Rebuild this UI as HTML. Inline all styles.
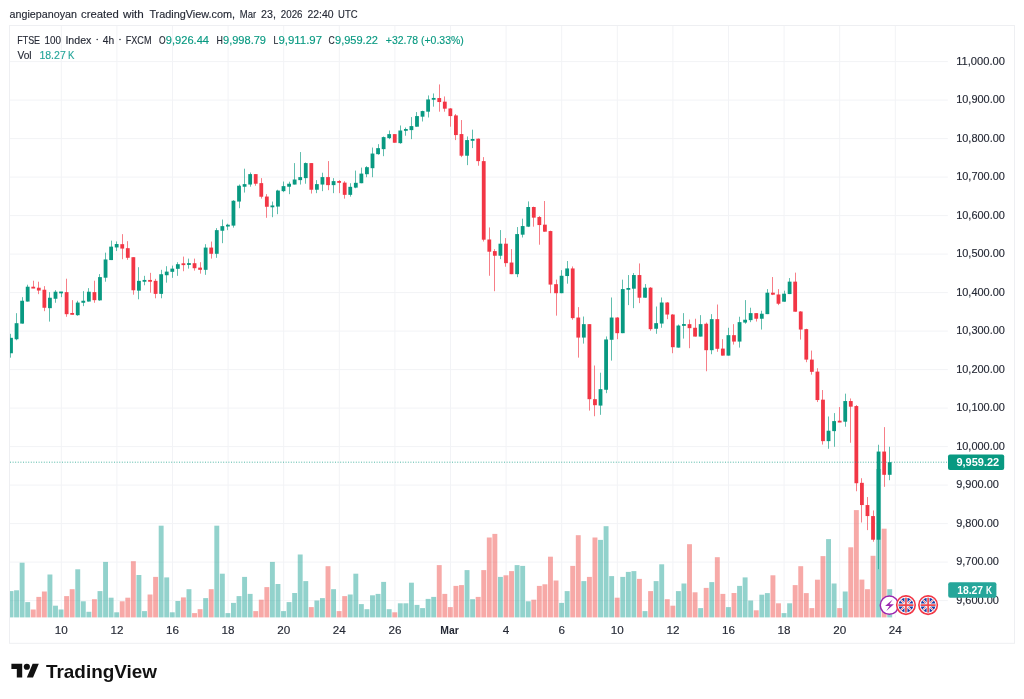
<!DOCTYPE html>
<html><head><meta charset="utf-8"><title>FTSE 100 Index chart</title>
<style>html,body{margin:0;padding:0;background:#fff}body{width:1024px;height:699px;position:relative;overflow:hidden;font-family:"Liberation Sans",sans-serif}</style></head>
<body>
<svg width="1024" height="699" viewBox="0 0 1024 699" style="position:absolute;left:0;top:0;filter:blur(0.3px)">
<defs><clipPath id="pane"><rect x="10" y="26" width="1004" height="617"/></clipPath></defs>
<g stroke="#f2f3f6" stroke-width="1">
<line x1="61.30" y1="26" x2="61.30" y2="617.4"/>
<line x1="116.90" y1="26" x2="116.90" y2="617.4"/>
<line x1="172.50" y1="26" x2="172.50" y2="617.4"/>
<line x1="228.10" y1="26" x2="228.10" y2="617.4"/>
<line x1="283.70" y1="26" x2="283.70" y2="617.4"/>
<line x1="339.30" y1="26" x2="339.30" y2="617.4"/>
<line x1="394.90" y1="26" x2="394.90" y2="617.4"/>
<line x1="450.50" y1="26" x2="450.50" y2="617.4"/>
<line x1="506.10" y1="26" x2="506.10" y2="617.4"/>
<line x1="561.70" y1="26" x2="561.70" y2="617.4"/>
<line x1="617.30" y1="26" x2="617.30" y2="617.4"/>
<line x1="672.90" y1="26" x2="672.90" y2="617.4"/>
<line x1="728.50" y1="26" x2="728.50" y2="617.4"/>
<line x1="784.10" y1="26" x2="784.10" y2="617.4"/>
<line x1="839.70" y1="26" x2="839.70" y2="617.4"/>
<line x1="895.30" y1="26" x2="895.30" y2="617.4"/>
<line x1="10" y1="600.60" x2="947.8" y2="600.60"/>
<line x1="10" y1="562.10" x2="947.8" y2="562.10"/>
<line x1="10" y1="523.60" x2="947.8" y2="523.60"/>
<line x1="10" y1="485.10" x2="947.8" y2="485.10"/>
<line x1="10" y1="446.60" x2="947.8" y2="446.60"/>
<line x1="10" y1="408.10" x2="947.8" y2="408.10"/>
<line x1="10" y1="369.60" x2="947.8" y2="369.60"/>
<line x1="10" y1="331.10" x2="947.8" y2="331.10"/>
<line x1="10" y1="292.60" x2="947.8" y2="292.60"/>
<line x1="10" y1="254.10" x2="947.8" y2="254.10"/>
<line x1="10" y1="215.60" x2="947.8" y2="215.60"/>
<line x1="10" y1="177.10" x2="947.8" y2="177.10"/>
<line x1="10" y1="138.60" x2="947.8" y2="138.60"/>
<line x1="10" y1="100.10" x2="947.8" y2="100.10"/>
<line x1="10" y1="61.60" x2="947.8" y2="61.60"/>
</g>
<rect x="9.5" y="25.5" width="1005" height="617.8" fill="none" stroke="#eeeff2" stroke-width="1"/>
<g clip-path="url(#pane)">
<rect x="8.55" y="591.10" width="4.9" height="26.30" fill="rgba(38,166,154,0.5)"/>
<rect x="14.11" y="590.30" width="4.9" height="27.10" fill="rgba(38,166,154,0.5)"/>
<rect x="19.67" y="562.70" width="4.9" height="54.70" fill="rgba(38,166,154,0.5)"/>
<rect x="25.23" y="602.10" width="4.9" height="15.30" fill="rgba(38,166,154,0.5)"/>
<rect x="30.80" y="609.50" width="4.9" height="7.90" fill="rgba(239,83,80,0.5)"/>
<rect x="36.36" y="596.90" width="4.9" height="20.50" fill="rgba(239,83,80,0.5)"/>
<rect x="41.92" y="591.50" width="4.9" height="25.90" fill="rgba(239,83,80,0.5)"/>
<rect x="47.48" y="574.50" width="4.9" height="42.90" fill="rgba(38,166,154,0.5)"/>
<rect x="53.04" y="605.70" width="4.9" height="11.70" fill="rgba(38,166,154,0.5)"/>
<rect x="58.60" y="609.50" width="4.9" height="7.90" fill="rgba(38,166,154,0.5)"/>
<rect x="64.16" y="596.10" width="4.9" height="21.30" fill="rgba(239,83,80,0.5)"/>
<rect x="69.73" y="589.20" width="4.9" height="28.20" fill="rgba(239,83,80,0.5)"/>
<rect x="75.29" y="569.30" width="4.9" height="48.10" fill="rgba(38,166,154,0.5)"/>
<rect x="80.85" y="601.30" width="4.9" height="16.10" fill="rgba(38,166,154,0.5)"/>
<rect x="86.41" y="611.80" width="4.9" height="5.60" fill="rgba(38,166,154,0.5)"/>
<rect x="91.97" y="599.20" width="4.9" height="18.20" fill="rgba(239,83,80,0.5)"/>
<rect x="97.53" y="591.10" width="4.9" height="26.30" fill="rgba(38,166,154,0.5)"/>
<rect x="103.10" y="561.90" width="4.9" height="55.50" fill="rgba(38,166,154,0.5)"/>
<rect x="108.66" y="597.70" width="4.9" height="19.70" fill="rgba(38,166,154,0.5)"/>
<rect x="114.22" y="612.30" width="4.9" height="5.10" fill="rgba(38,166,154,0.5)"/>
<rect x="119.78" y="601.30" width="4.9" height="16.10" fill="rgba(239,83,80,0.5)"/>
<rect x="125.34" y="597.70" width="4.9" height="19.70" fill="rgba(239,83,80,0.5)"/>
<rect x="130.90" y="561.20" width="4.9" height="56.20" fill="rgba(239,83,80,0.5)"/>
<rect x="136.46" y="575.00" width="4.9" height="42.40" fill="rgba(38,166,154,0.5)"/>
<rect x="142.03" y="611.10" width="4.9" height="6.30" fill="rgba(38,166,154,0.5)"/>
<rect x="147.59" y="594.50" width="4.9" height="22.90" fill="rgba(239,83,80,0.5)"/>
<rect x="153.15" y="576.90" width="4.9" height="40.50" fill="rgba(239,83,80,0.5)"/>
<rect x="158.71" y="525.70" width="4.9" height="91.70" fill="rgba(38,166,154,0.5)"/>
<rect x="164.27" y="577.40" width="4.9" height="40.00" fill="rgba(38,166,154,0.5)"/>
<rect x="169.83" y="612.30" width="4.9" height="5.10" fill="rgba(38,166,154,0.5)"/>
<rect x="175.40" y="601.00" width="4.9" height="16.40" fill="rgba(38,166,154,0.5)"/>
<rect x="180.96" y="597.40" width="4.9" height="20.00" fill="rgba(239,83,80,0.5)"/>
<rect x="186.52" y="589.20" width="4.9" height="28.20" fill="rgba(38,166,154,0.5)"/>
<rect x="192.08" y="613.10" width="4.9" height="4.30" fill="rgba(239,83,80,0.5)"/>
<rect x="197.64" y="609.20" width="4.9" height="8.20" fill="rgba(239,83,80,0.5)"/>
<rect x="203.20" y="598.10" width="4.9" height="19.30" fill="rgba(38,166,154,0.5)"/>
<rect x="208.76" y="589.20" width="4.9" height="28.20" fill="rgba(239,83,80,0.5)"/>
<rect x="214.33" y="525.70" width="4.9" height="91.70" fill="rgba(38,166,154,0.5)"/>
<rect x="219.89" y="573.70" width="4.9" height="43.70" fill="rgba(38,166,154,0.5)"/>
<rect x="225.45" y="613.10" width="4.9" height="4.30" fill="rgba(38,166,154,0.5)"/>
<rect x="231.01" y="602.90" width="4.9" height="14.50" fill="rgba(38,166,154,0.5)"/>
<rect x="236.57" y="596.10" width="4.9" height="21.30" fill="rgba(38,166,154,0.5)"/>
<rect x="242.13" y="576.90" width="4.9" height="40.50" fill="rgba(38,166,154,0.5)"/>
<rect x="247.69" y="593.90" width="4.9" height="23.50" fill="rgba(38,166,154,0.5)"/>
<rect x="253.26" y="611.10" width="4.9" height="6.30" fill="rgba(239,83,80,0.5)"/>
<rect x="258.82" y="599.70" width="4.9" height="17.70" fill="rgba(239,83,80,0.5)"/>
<rect x="264.38" y="587.10" width="4.9" height="30.30" fill="rgba(239,83,80,0.5)"/>
<rect x="269.94" y="561.90" width="4.9" height="55.50" fill="rgba(38,166,154,0.5)"/>
<rect x="275.50" y="584.00" width="4.9" height="33.40" fill="rgba(38,166,154,0.5)"/>
<rect x="281.06" y="611.10" width="4.9" height="6.30" fill="rgba(38,166,154,0.5)"/>
<rect x="286.62" y="602.10" width="4.9" height="15.30" fill="rgba(38,166,154,0.5)"/>
<rect x="292.19" y="593.00" width="4.9" height="24.40" fill="rgba(38,166,154,0.5)"/>
<rect x="297.75" y="554.50" width="4.9" height="62.90" fill="rgba(38,166,154,0.5)"/>
<rect x="303.31" y="581.10" width="4.9" height="36.30" fill="rgba(38,166,154,0.5)"/>
<rect x="308.87" y="607.10" width="4.9" height="10.30" fill="rgba(239,83,80,0.5)"/>
<rect x="314.43" y="600.50" width="4.9" height="16.90" fill="rgba(38,166,154,0.5)"/>
<rect x="319.99" y="598.10" width="4.9" height="19.30" fill="rgba(38,166,154,0.5)"/>
<rect x="325.56" y="566.20" width="4.9" height="51.20" fill="rgba(239,83,80,0.5)"/>
<rect x="331.12" y="589.20" width="4.9" height="28.20" fill="rgba(38,166,154,0.5)"/>
<rect x="336.68" y="611.10" width="4.9" height="6.30" fill="rgba(239,83,80,0.5)"/>
<rect x="342.24" y="596.10" width="4.9" height="21.30" fill="rgba(239,83,80,0.5)"/>
<rect x="347.80" y="594.50" width="4.9" height="22.90" fill="rgba(38,166,154,0.5)"/>
<rect x="353.36" y="573.70" width="4.9" height="43.70" fill="rgba(38,166,154,0.5)"/>
<rect x="358.92" y="604.10" width="4.9" height="13.30" fill="rgba(38,166,154,0.5)"/>
<rect x="364.49" y="609.20" width="4.9" height="8.20" fill="rgba(38,166,154,0.5)"/>
<rect x="370.05" y="595.30" width="4.9" height="22.10" fill="rgba(38,166,154,0.5)"/>
<rect x="375.61" y="593.90" width="4.9" height="23.50" fill="rgba(38,166,154,0.5)"/>
<rect x="381.17" y="581.90" width="4.9" height="35.50" fill="rgba(38,166,154,0.5)"/>
<rect x="386.73" y="609.20" width="4.9" height="8.20" fill="rgba(38,166,154,0.5)"/>
<rect x="392.29" y="612.30" width="4.9" height="5.10" fill="rgba(239,83,80,0.5)"/>
<rect x="397.85" y="603.30" width="4.9" height="14.10" fill="rgba(38,166,154,0.5)"/>
<rect x="403.42" y="603.30" width="4.9" height="14.10" fill="rgba(38,166,154,0.5)"/>
<rect x="408.98" y="582.70" width="4.9" height="34.70" fill="rgba(38,166,154,0.5)"/>
<rect x="414.54" y="604.90" width="4.9" height="12.50" fill="rgba(38,166,154,0.5)"/>
<rect x="420.10" y="608.10" width="4.9" height="9.30" fill="rgba(38,166,154,0.5)"/>
<rect x="425.66" y="598.90" width="4.9" height="18.50" fill="rgba(38,166,154,0.5)"/>
<rect x="431.22" y="596.90" width="4.9" height="20.50" fill="rgba(38,166,154,0.5)"/>
<rect x="436.79" y="565.10" width="4.9" height="52.30" fill="rgba(239,83,80,0.5)"/>
<rect x="442.35" y="593.90" width="4.9" height="23.50" fill="rgba(239,83,80,0.5)"/>
<rect x="447.91" y="607.10" width="4.9" height="10.30" fill="rgba(239,83,80,0.5)"/>
<rect x="453.47" y="585.90" width="4.9" height="31.50" fill="rgba(239,83,80,0.5)"/>
<rect x="459.03" y="585.10" width="4.9" height="32.30" fill="rgba(239,83,80,0.5)"/>
<rect x="464.59" y="570.10" width="4.9" height="47.30" fill="rgba(38,166,154,0.5)"/>
<rect x="470.15" y="599.20" width="4.9" height="18.20" fill="rgba(38,166,154,0.5)"/>
<rect x="475.72" y="596.90" width="4.9" height="20.50" fill="rgba(239,83,80,0.5)"/>
<rect x="481.28" y="570.10" width="4.9" height="47.30" fill="rgba(239,83,80,0.5)"/>
<rect x="486.84" y="537.50" width="4.9" height="79.90" fill="rgba(239,83,80,0.5)"/>
<rect x="492.40" y="533.90" width="4.9" height="83.50" fill="rgba(239,83,80,0.5)"/>
<rect x="497.96" y="576.90" width="4.9" height="40.50" fill="rgba(38,166,154,0.5)"/>
<rect x="503.52" y="575.30" width="4.9" height="42.10" fill="rgba(239,83,80,0.5)"/>
<rect x="509.08" y="571.10" width="4.9" height="46.30" fill="rgba(239,83,80,0.5)"/>
<rect x="514.65" y="565.10" width="4.9" height="52.30" fill="rgba(38,166,154,0.5)"/>
<rect x="520.21" y="565.90" width="4.9" height="51.50" fill="rgba(38,166,154,0.5)"/>
<rect x="525.77" y="601.30" width="4.9" height="16.10" fill="rgba(38,166,154,0.5)"/>
<rect x="531.33" y="599.70" width="4.9" height="17.70" fill="rgba(239,83,80,0.5)"/>
<rect x="536.89" y="585.90" width="4.9" height="31.50" fill="rgba(239,83,80,0.5)"/>
<rect x="542.45" y="584.30" width="4.9" height="33.10" fill="rgba(239,83,80,0.5)"/>
<rect x="548.02" y="556.70" width="4.9" height="60.70" fill="rgba(239,83,80,0.5)"/>
<rect x="553.58" y="580.50" width="4.9" height="36.90" fill="rgba(239,83,80,0.5)"/>
<rect x="559.14" y="602.90" width="4.9" height="14.50" fill="rgba(38,166,154,0.5)"/>
<rect x="564.70" y="591.10" width="4.9" height="26.30" fill="rgba(38,166,154,0.5)"/>
<rect x="570.26" y="565.90" width="4.9" height="51.50" fill="rgba(239,83,80,0.5)"/>
<rect x="575.82" y="535.20" width="4.9" height="82.20" fill="rgba(239,83,80,0.5)"/>
<rect x="581.38" y="581.10" width="4.9" height="36.30" fill="rgba(38,166,154,0.5)"/>
<rect x="586.95" y="576.90" width="4.9" height="40.50" fill="rgba(239,83,80,0.5)"/>
<rect x="592.51" y="537.50" width="4.9" height="79.90" fill="rgba(239,83,80,0.5)"/>
<rect x="598.07" y="539.90" width="4.9" height="77.50" fill="rgba(38,166,154,0.5)"/>
<rect x="603.63" y="526.20" width="4.9" height="91.20" fill="rgba(38,166,154,0.5)"/>
<rect x="609.19" y="576.10" width="4.9" height="41.30" fill="rgba(38,166,154,0.5)"/>
<rect x="614.75" y="597.70" width="4.9" height="19.70" fill="rgba(239,83,80,0.5)"/>
<rect x="620.31" y="576.90" width="4.9" height="40.50" fill="rgba(38,166,154,0.5)"/>
<rect x="625.88" y="571.90" width="4.9" height="45.50" fill="rgba(38,166,154,0.5)"/>
<rect x="631.44" y="571.10" width="4.9" height="46.30" fill="rgba(38,166,154,0.5)"/>
<rect x="637.00" y="578.90" width="4.9" height="38.50" fill="rgba(239,83,80,0.5)"/>
<rect x="642.56" y="611.10" width="4.9" height="6.30" fill="rgba(38,166,154,0.5)"/>
<rect x="648.12" y="591.10" width="4.9" height="26.30" fill="rgba(239,83,80,0.5)"/>
<rect x="653.68" y="581.10" width="4.9" height="36.30" fill="rgba(38,166,154,0.5)"/>
<rect x="659.25" y="564.30" width="4.9" height="53.10" fill="rgba(38,166,154,0.5)"/>
<rect x="664.81" y="599.20" width="4.9" height="18.20" fill="rgba(239,83,80,0.5)"/>
<rect x="670.37" y="605.70" width="4.9" height="11.70" fill="rgba(239,83,80,0.5)"/>
<rect x="675.93" y="591.10" width="4.9" height="26.30" fill="rgba(38,166,154,0.5)"/>
<rect x="681.49" y="583.50" width="4.9" height="33.90" fill="rgba(38,166,154,0.5)"/>
<rect x="687.05" y="544.20" width="4.9" height="73.20" fill="rgba(239,83,80,0.5)"/>
<rect x="692.61" y="592.30" width="4.9" height="25.10" fill="rgba(239,83,80,0.5)"/>
<rect x="698.18" y="608.10" width="4.9" height="9.30" fill="rgba(38,166,154,0.5)"/>
<rect x="703.74" y="587.90" width="4.9" height="29.50" fill="rgba(239,83,80,0.5)"/>
<rect x="709.30" y="582.10" width="4.9" height="35.30" fill="rgba(38,166,154,0.5)"/>
<rect x="714.86" y="557.20" width="4.9" height="60.20" fill="rgba(239,83,80,0.5)"/>
<rect x="720.42" y="593.90" width="4.9" height="23.50" fill="rgba(239,83,80,0.5)"/>
<rect x="725.98" y="607.10" width="4.9" height="10.30" fill="rgba(38,166,154,0.5)"/>
<rect x="731.54" y="593.00" width="4.9" height="24.40" fill="rgba(239,83,80,0.5)"/>
<rect x="737.11" y="585.90" width="4.9" height="31.50" fill="rgba(38,166,154,0.5)"/>
<rect x="742.67" y="577.40" width="4.9" height="40.00" fill="rgba(38,166,154,0.5)"/>
<rect x="748.23" y="600.50" width="4.9" height="16.90" fill="rgba(38,166,154,0.5)"/>
<rect x="753.79" y="610.30" width="4.9" height="7.10" fill="rgba(239,83,80,0.5)"/>
<rect x="759.35" y="594.70" width="4.9" height="22.70" fill="rgba(38,166,154,0.5)"/>
<rect x="764.91" y="593.10" width="4.9" height="24.30" fill="rgba(38,166,154,0.5)"/>
<rect x="770.48" y="575.30" width="4.9" height="42.10" fill="rgba(239,83,80,0.5)"/>
<rect x="776.04" y="603.30" width="4.9" height="14.10" fill="rgba(239,83,80,0.5)"/>
<rect x="781.60" y="613.10" width="4.9" height="4.30" fill="rgba(38,166,154,0.5)"/>
<rect x="787.16" y="603.30" width="4.9" height="14.10" fill="rgba(38,166,154,0.5)"/>
<rect x="792.72" y="585.10" width="4.9" height="32.30" fill="rgba(239,83,80,0.5)"/>
<rect x="798.28" y="566.20" width="4.9" height="51.20" fill="rgba(239,83,80,0.5)"/>
<rect x="803.84" y="593.10" width="4.9" height="24.30" fill="rgba(239,83,80,0.5)"/>
<rect x="809.41" y="608.10" width="4.9" height="9.30" fill="rgba(239,83,80,0.5)"/>
<rect x="814.97" y="579.70" width="4.9" height="37.70" fill="rgba(239,83,80,0.5)"/>
<rect x="820.53" y="556.10" width="4.9" height="61.30" fill="rgba(239,83,80,0.5)"/>
<rect x="826.09" y="539.10" width="4.9" height="78.30" fill="rgba(38,166,154,0.5)"/>
<rect x="831.65" y="583.50" width="4.9" height="33.90" fill="rgba(38,166,154,0.5)"/>
<rect x="837.21" y="608.10" width="4.9" height="9.30" fill="rgba(239,83,80,0.5)"/>
<rect x="842.77" y="591.50" width="4.9" height="25.90" fill="rgba(38,166,154,0.5)"/>
<rect x="848.34" y="547.30" width="4.9" height="70.10" fill="rgba(239,83,80,0.5)"/>
<rect x="853.90" y="510.10" width="4.9" height="107.30" fill="rgba(239,83,80,0.5)"/>
<rect x="859.46" y="579.60" width="4.9" height="37.80" fill="rgba(239,83,80,0.5)"/>
<rect x="865.02" y="589.20" width="4.9" height="28.20" fill="rgba(239,83,80,0.5)"/>
<rect x="870.58" y="555.80" width="4.9" height="61.60" fill="rgba(239,83,80,0.5)"/>
<rect x="876.14" y="469.00" width="4.9" height="148.40" fill="rgba(38,166,154,0.5)"/>
<rect x="881.71" y="528.70" width="4.9" height="88.70" fill="rgba(239,83,80,0.5)"/>
<rect x="887.27" y="589.20" width="4.9" height="28.20" fill="rgba(38,166,154,0.5)"/>
<rect x="10" y="333.82" width="1" height="23.85" fill="#089981" opacity="0.64"/>
<rect x="9.10" y="337.83" width="3.8" height="15.43" fill="#089981"/>
<rect x="16" y="313.18" width="1" height="27.05" fill="#089981" opacity="0.64"/>
<rect x="14.66" y="323.20" width="3.8" height="16.03" fill="#089981"/>
<rect x="22" y="297.14" width="1" height="26.46" fill="#089981" opacity="0.64"/>
<rect x="20.22" y="300.75" width="3.8" height="22.85" fill="#089981"/>
<rect x="27" y="284.72" width="1" height="16.83" fill="#089981" opacity="0.64"/>
<rect x="25.78" y="286.72" width="3.8" height="14.83" fill="#089981"/>
<rect x="33" y="280.71" width="1" height="7.42" fill="#F23645" opacity="0.64"/>
<rect x="31.35" y="286.73" width="3.8" height="1.80" fill="#F23645"/>
<rect x="38" y="281.71" width="1" height="12.43" fill="#F23645" opacity="0.64"/>
<rect x="36.91" y="287.73" width="3.8" height="2.80" fill="#F23645"/>
<rect x="44" y="286.12" width="1" height="25.05" fill="#F23645" opacity="0.64"/>
<rect x="42.47" y="289.73" width="3.8" height="18.04" fill="#F23645"/>
<rect x="49" y="292.13" width="1" height="29.46" fill="#089981" opacity="0.64"/>
<rect x="48.03" y="297.75" width="3.8" height="10.42" fill="#089981"/>
<rect x="55" y="290.13" width="1" height="12.63" fill="#089981" opacity="0.64"/>
<rect x="53.59" y="291.73" width="3.8" height="7.02" fill="#089981"/>
<rect x="61" y="292.13" width="1" height="5.01" fill="#089981" opacity="0.64"/>
<rect x="59.15" y="291.54" width="3.8" height="1.80" fill="#089981"/>
<rect x="66" y="278.71" width="1" height="38.07" fill="#F23645" opacity="0.64"/>
<rect x="64.71" y="292.13" width="3.8" height="22.05" fill="#F23645"/>
<rect x="72" y="300.15" width="1" height="14.43" fill="#F23645" opacity="0.64"/>
<rect x="70.28" y="312.98" width="3.8" height="1.80" fill="#F23645"/>
<rect x="77" y="300.75" width="1" height="15.03" fill="#089981" opacity="0.64"/>
<rect x="75.84" y="302.56" width="3.8" height="12.62" fill="#089981"/>
<rect x="83" y="291.13" width="1" height="15.03" fill="#089981" opacity="0.64"/>
<rect x="81.40" y="300.75" width="3.8" height="2.01" fill="#089981"/>
<rect x="88" y="288.13" width="1" height="13.42" fill="#089981" opacity="0.64"/>
<rect x="86.96" y="291.73" width="3.8" height="9.82" fill="#089981"/>
<rect x="94" y="280.71" width="1" height="22.05" fill="#F23645" opacity="0.64"/>
<rect x="92.52" y="292.13" width="3.8" height="8.02" fill="#F23645"/>
<rect x="99" y="274.10" width="1" height="26.65" fill="#089981" opacity="0.64"/>
<rect x="98.08" y="277.10" width="3.8" height="23.25" fill="#089981"/>
<rect x="105" y="252.66" width="1" height="29.05" fill="#089981" opacity="0.64"/>
<rect x="103.65" y="259.47" width="3.8" height="18.24" fill="#089981"/>
<rect x="111" y="240.63" width="1" height="19.44" fill="#089981" opacity="0.64"/>
<rect x="109.21" y="246.64" width="3.8" height="13.43" fill="#089981"/>
<rect x="116" y="241.43" width="1" height="9.62" fill="#089981" opacity="0.64"/>
<rect x="114.77" y="244.04" width="3.8" height="3.40" fill="#089981"/>
<rect x="122" y="234.15" width="1" height="25.05" fill="#F23645" opacity="0.64"/>
<rect x="120.33" y="244.17" width="3.8" height="4.41" fill="#F23645"/>
<rect x="127" y="241.16" width="1" height="18.64" fill="#F23645" opacity="0.64"/>
<rect x="125.89" y="248.18" width="3.8" height="9.62" fill="#F23645"/>
<rect x="133" y="257.19" width="1" height="37.48" fill="#F23645" opacity="0.64"/>
<rect x="131.45" y="257.19" width="3.8" height="33.07" fill="#F23645"/>
<rect x="138" y="267.21" width="1" height="32.07" fill="#089981" opacity="0.64"/>
<rect x="137.01" y="280.84" width="3.8" height="9.82" fill="#089981"/>
<rect x="144" y="275.83" width="1" height="9.42" fill="#089981" opacity="0.64"/>
<rect x="142.58" y="279.94" width="3.8" height="1.80" fill="#089981"/>
<rect x="150" y="272.83" width="1" height="19.84" fill="#F23645" opacity="0.64"/>
<rect x="148.14" y="279.94" width="3.8" height="1.80" fill="#F23645"/>
<rect x="155" y="278.84" width="1" height="19.44" fill="#F23645" opacity="0.64"/>
<rect x="153.70" y="280.84" width="3.8" height="13.03" fill="#F23645"/>
<rect x="161" y="269.82" width="1" height="28.46" fill="#089981" opacity="0.64"/>
<rect x="159.26" y="274.23" width="3.8" height="19.64" fill="#089981"/>
<rect x="166" y="266.21" width="1" height="16.44" fill="#089981" opacity="0.64"/>
<rect x="164.82" y="271.62" width="3.8" height="3.61" fill="#089981"/>
<rect x="172" y="265.61" width="1" height="12.23" fill="#089981" opacity="0.64"/>
<rect x="170.38" y="268.62" width="3.8" height="3.20" fill="#089981"/>
<rect x="177" y="262.20" width="1" height="13.63" fill="#089981" opacity="0.64"/>
<rect x="175.94" y="264.21" width="3.8" height="4.61" fill="#089981"/>
<rect x="183" y="256.59" width="1" height="14.63" fill="#F23645" opacity="0.64"/>
<rect x="181.51" y="263.31" width="3.8" height="1.80" fill="#F23645"/>
<rect x="188" y="258.60" width="1" height="10.02" fill="#089981" opacity="0.64"/>
<rect x="187.07" y="263.11" width="3.8" height="1.80" fill="#089981"/>
<rect x="194" y="258.60" width="1" height="12.02" fill="#F23645" opacity="0.64"/>
<rect x="192.63" y="263.21" width="3.8" height="5.01" fill="#F23645"/>
<rect x="200" y="262.20" width="1" height="11.43" fill="#F23645" opacity="0.64"/>
<rect x="198.19" y="267.62" width="3.8" height="2.20" fill="#F23645"/>
<rect x="205" y="244.17" width="1" height="30.66" fill="#089981" opacity="0.64"/>
<rect x="203.75" y="247.58" width="3.8" height="22.24" fill="#089981"/>
<rect x="211" y="241.56" width="1" height="17.04" fill="#F23645" opacity="0.64"/>
<rect x="209.31" y="247.58" width="3.8" height="6.21" fill="#F23645"/>
<rect x="216" y="228.14" width="1" height="29.66" fill="#089981" opacity="0.64"/>
<rect x="214.88" y="230.14" width="3.8" height="23.65" fill="#089981"/>
<rect x="222" y="219.52" width="1" height="23.65" fill="#089981" opacity="0.64"/>
<rect x="220.44" y="226.13" width="3.8" height="4.61" fill="#089981"/>
<rect x="227" y="223.73" width="1" height="6.41" fill="#089981" opacity="0.64"/>
<rect x="226.00" y="224.73" width="3.8" height="1.80" fill="#089981"/>
<rect x="233" y="200.16" width="1" height="27.46" fill="#089981" opacity="0.64"/>
<rect x="231.56" y="200.76" width="3.8" height="24.85" fill="#089981"/>
<rect x="239" y="184.53" width="1" height="23.65" fill="#089981" opacity="0.64"/>
<rect x="237.12" y="185.73" width="3.8" height="15.83" fill="#089981"/>
<rect x="244" y="168.70" width="1" height="23.85" fill="#089981" opacity="0.64"/>
<rect x="242.68" y="184.13" width="3.8" height="2.60" fill="#089981"/>
<rect x="250" y="172.51" width="1" height="14.22" fill="#089981" opacity="0.64"/>
<rect x="248.24" y="174.11" width="3.8" height="10.42" fill="#089981"/>
<rect x="255" y="174.11" width="1" height="11.62" fill="#F23645" opacity="0.64"/>
<rect x="253.81" y="174.11" width="3.8" height="9.62" fill="#F23645"/>
<rect x="261" y="178.12" width="1" height="20.44" fill="#F23645" opacity="0.64"/>
<rect x="259.37" y="183.13" width="3.8" height="13.62" fill="#F23645"/>
<rect x="266" y="194.15" width="1" height="23.65" fill="#F23645" opacity="0.64"/>
<rect x="264.93" y="196.55" width="3.8" height="10.22" fill="#F23645"/>
<rect x="272" y="201.56" width="1" height="15.63" fill="#089981" opacity="0.64"/>
<rect x="270.49" y="205.47" width="3.8" height="1.80" fill="#089981"/>
<rect x="277" y="189.74" width="1" height="24.45" fill="#089981" opacity="0.64"/>
<rect x="276.05" y="190.54" width="3.8" height="16.03" fill="#089981"/>
<rect x="283" y="181.52" width="1" height="10.62" fill="#089981" opacity="0.64"/>
<rect x="281.61" y="186.13" width="3.8" height="5.01" fill="#089981"/>
<rect x="289" y="181.72" width="1" height="12.43" fill="#089981" opacity="0.64"/>
<rect x="287.18" y="183.73" width="3.8" height="3.00" fill="#089981"/>
<rect x="294" y="163.09" width="1" height="21.44" fill="#089981" opacity="0.64"/>
<rect x="292.74" y="179.52" width="3.8" height="5.01" fill="#089981"/>
<rect x="300" y="152.06" width="1" height="32.47" fill="#089981" opacity="0.64"/>
<rect x="298.30" y="177.11" width="3.8" height="3.01" fill="#089981"/>
<rect x="305" y="162.48" width="1" height="21.25" fill="#089981" opacity="0.64"/>
<rect x="303.86" y="163.09" width="3.8" height="15.03" fill="#089981"/>
<rect x="311" y="163.09" width="1" height="30.46" fill="#F23645" opacity="0.64"/>
<rect x="309.42" y="163.09" width="3.8" height="26.65" fill="#F23645"/>
<rect x="316" y="180.12" width="1" height="13.03" fill="#089981" opacity="0.64"/>
<rect x="314.98" y="184.13" width="3.8" height="5.61" fill="#089981"/>
<rect x="322" y="172.71" width="1" height="18.43" fill="#089981" opacity="0.64"/>
<rect x="320.54" y="177.11" width="3.8" height="7.42" fill="#089981"/>
<rect x="328" y="161.08" width="1" height="29.06" fill="#F23645" opacity="0.64"/>
<rect x="326.11" y="177.11" width="3.8" height="8.02" fill="#F23645"/>
<rect x="333" y="178.12" width="1" height="15.03" fill="#089981" opacity="0.64"/>
<rect x="331.67" y="181.12" width="3.8" height="4.01" fill="#089981"/>
<rect x="339" y="180.12" width="1" height="13.03" fill="#F23645" opacity="0.64"/>
<rect x="337.23" y="181.03" width="3.8" height="1.80" fill="#F23645"/>
<rect x="344" y="181.21" width="1" height="17.44" fill="#F23645" opacity="0.64"/>
<rect x="342.79" y="182.62" width="3.8" height="12.22" fill="#F23645"/>
<rect x="350" y="183.22" width="1" height="13.42" fill="#089981" opacity="0.64"/>
<rect x="348.35" y="186.82" width="3.8" height="8.02" fill="#089981"/>
<rect x="355" y="170.59" width="1" height="17.64" fill="#089981" opacity="0.64"/>
<rect x="353.91" y="182.82" width="3.8" height="4.81" fill="#089981"/>
<rect x="361" y="167.59" width="1" height="15.63" fill="#089981" opacity="0.64"/>
<rect x="359.47" y="173.60" width="3.8" height="9.62" fill="#089981"/>
<rect x="366" y="166.18" width="1" height="11.02" fill="#089981" opacity="0.64"/>
<rect x="365.04" y="167.18" width="3.8" height="7.02" fill="#089981"/>
<rect x="372" y="147.55" width="1" height="29.65" fill="#089981" opacity="0.64"/>
<rect x="370.60" y="153.56" width="3.8" height="14.63" fill="#089981"/>
<rect x="378" y="144.14" width="1" height="10.62" fill="#089981" opacity="0.64"/>
<rect x="376.16" y="148.15" width="3.8" height="6.01" fill="#089981"/>
<rect x="383" y="136.52" width="1" height="19.64" fill="#089981" opacity="0.64"/>
<rect x="381.72" y="137.12" width="3.8" height="12.03" fill="#089981"/>
<rect x="389" y="130.51" width="1" height="8.62" fill="#089981" opacity="0.64"/>
<rect x="387.28" y="134.12" width="3.8" height="4.01" fill="#089981"/>
<rect x="394" y="134.12" width="1" height="8.62" fill="#F23645" opacity="0.64"/>
<rect x="392.84" y="134.12" width="3.8" height="8.62" fill="#F23645"/>
<rect x="400" y="125.50" width="1" height="18.24" fill="#089981" opacity="0.64"/>
<rect x="398.40" y="130.51" width="3.8" height="12.63" fill="#089981"/>
<rect x="405" y="127.51" width="1" height="8.21" fill="#089981" opacity="0.64"/>
<rect x="403.97" y="129.01" width="3.8" height="1.80" fill="#089981"/>
<rect x="411" y="117.08" width="1" height="22.05" fill="#089981" opacity="0.64"/>
<rect x="409.53" y="126.10" width="3.8" height="4.01" fill="#089981"/>
<rect x="416" y="112.07" width="1" height="14.63" fill="#089981" opacity="0.64"/>
<rect x="415.09" y="116.08" width="3.8" height="10.62" fill="#089981"/>
<rect x="422" y="110.67" width="1" height="10.82" fill="#089981" opacity="0.64"/>
<rect x="420.65" y="111.07" width="3.8" height="5.61" fill="#089981"/>
<rect x="428" y="95.44" width="1" height="22.04" fill="#089981" opacity="0.64"/>
<rect x="426.21" y="99.45" width="3.8" height="12.22" fill="#089981"/>
<rect x="433" y="93.44" width="1" height="13.22" fill="#089981" opacity="0.64"/>
<rect x="431.77" y="97.95" width="3.8" height="1.80" fill="#089981"/>
<rect x="439" y="84.42" width="1" height="27.25" fill="#F23645" opacity="0.64"/>
<rect x="437.34" y="98.05" width="3.8" height="4.00" fill="#F23645"/>
<rect x="444" y="96.44" width="1" height="15.23" fill="#F23645" opacity="0.64"/>
<rect x="442.90" y="101.65" width="3.8" height="7.02" fill="#F23645"/>
<rect x="450" y="108.07" width="1" height="18.63" fill="#F23645" opacity="0.64"/>
<rect x="448.46" y="108.47" width="3.8" height="7.61" fill="#F23645"/>
<rect x="455" y="114.03" width="1" height="26.05" fill="#F23645" opacity="0.64"/>
<rect x="454.02" y="115.43" width="3.8" height="19.64" fill="#F23645"/>
<rect x="461" y="120.04" width="1" height="37.07" fill="#F23645" opacity="0.64"/>
<rect x="459.58" y="134.07" width="3.8" height="21.64" fill="#F23645"/>
<rect x="467" y="136.47" width="1" height="28.66" fill="#089981" opacity="0.64"/>
<rect x="465.14" y="140.08" width="3.8" height="15.63" fill="#089981"/>
<rect x="472" y="129.66" width="1" height="18.44" fill="#089981" opacity="0.64"/>
<rect x="470.70" y="138.98" width="3.8" height="1.80" fill="#089981"/>
<rect x="478" y="138.48" width="1" height="27.25" fill="#F23645" opacity="0.64"/>
<rect x="476.27" y="138.68" width="3.8" height="22.44" fill="#F23645"/>
<rect x="483" y="157.11" width="1" height="84.38" fill="#F23645" opacity="0.64"/>
<rect x="481.83" y="161.12" width="3.8" height="78.57" fill="#F23645"/>
<rect x="489" y="227.46" width="1" height="48.30" fill="#F23645" opacity="0.64"/>
<rect x="487.39" y="239.49" width="3.8" height="12.22" fill="#F23645"/>
<rect x="494" y="249.11" width="1" height="42.08" fill="#F23645" opacity="0.64"/>
<rect x="492.95" y="251.11" width="3.8" height="4.61" fill="#F23645"/>
<rect x="500" y="230.07" width="1" height="29.06" fill="#089981" opacity="0.64"/>
<rect x="498.51" y="243.70" width="3.8" height="12.02" fill="#089981"/>
<rect x="505" y="238.09" width="1" height="28.65" fill="#F23645" opacity="0.64"/>
<rect x="504.07" y="243.70" width="3.8" height="19.44" fill="#F23645"/>
<rect x="511" y="249.11" width="1" height="25.05" fill="#F23645" opacity="0.64"/>
<rect x="509.63" y="262.54" width="3.8" height="11.62" fill="#F23645"/>
<rect x="517" y="227.06" width="1" height="50.10" fill="#089981" opacity="0.64"/>
<rect x="515.20" y="234.08" width="3.8" height="40.08" fill="#089981"/>
<rect x="522" y="218.65" width="1" height="18.83" fill="#089981" opacity="0.64"/>
<rect x="520.76" y="226.06" width="3.8" height="8.62" fill="#089981"/>
<rect x="528" y="201.41" width="1" height="25.65" fill="#089981" opacity="0.64"/>
<rect x="526.32" y="207.02" width="3.8" height="19.64" fill="#089981"/>
<rect x="533" y="206.62" width="1" height="20.04" fill="#F23645" opacity="0.64"/>
<rect x="531.88" y="207.02" width="3.8" height="10.63" fill="#F23645"/>
<rect x="539" y="216.04" width="1" height="28.66" fill="#F23645" opacity="0.64"/>
<rect x="537.44" y="217.04" width="3.8" height="8.02" fill="#F23645"/>
<rect x="544" y="201.01" width="1" height="30.66" fill="#F23645" opacity="0.64"/>
<rect x="543.00" y="224.66" width="3.8" height="7.01" fill="#F23645"/>
<rect x="550" y="230.67" width="1" height="62.53" fill="#F23645" opacity="0.64"/>
<rect x="548.57" y="231.07" width="3.8" height="53.51" fill="#F23645"/>
<rect x="556" y="279.57" width="1" height="36.07" fill="#F23645" opacity="0.64"/>
<rect x="554.13" y="284.18" width="3.8" height="9.02" fill="#F23645"/>
<rect x="561" y="270.15" width="1" height="23.05" fill="#089981" opacity="0.64"/>
<rect x="559.69" y="275.76" width="3.8" height="17.44" fill="#089981"/>
<rect x="567" y="261.02" width="1" height="22.65" fill="#089981" opacity="0.64"/>
<rect x="565.25" y="268.44" width="3.8" height="7.61" fill="#089981"/>
<rect x="572" y="266.43" width="1" height="53.31" fill="#F23645" opacity="0.64"/>
<rect x="570.81" y="268.44" width="3.8" height="49.70" fill="#F23645"/>
<rect x="578" y="307.11" width="1" height="50.51" fill="#F23645" opacity="0.64"/>
<rect x="576.37" y="317.54" width="3.8" height="20.04" fill="#F23645"/>
<rect x="583" y="316.53" width="1" height="27.06" fill="#089981" opacity="0.64"/>
<rect x="581.93" y="324.15" width="3.8" height="13.43" fill="#089981"/>
<rect x="589" y="324.15" width="1" height="86.45" fill="#F23645" opacity="0.64"/>
<rect x="587.50" y="324.15" width="3.8" height="75.03" fill="#F23645"/>
<rect x="594" y="365.51" width="1" height="50.70" fill="#F23645" opacity="0.64"/>
<rect x="593.06" y="399.18" width="3.8" height="6.01" fill="#F23645"/>
<rect x="600" y="372.73" width="1" height="42.08" fill="#089981" opacity="0.64"/>
<rect x="598.62" y="389.16" width="3.8" height="16.43" fill="#089981"/>
<rect x="606" y="336.45" width="1" height="56.72" fill="#089981" opacity="0.64"/>
<rect x="604.18" y="339.46" width="3.8" height="50.30" fill="#089981"/>
<rect x="611" y="297.49" width="1" height="63.13" fill="#089981" opacity="0.64"/>
<rect x="609.74" y="317.54" width="3.8" height="22.24" fill="#089981"/>
<rect x="617" y="317.13" width="1" height="22.05" fill="#F23645" opacity="0.64"/>
<rect x="615.30" y="317.54" width="3.8" height="15.63" fill="#F23645"/>
<rect x="622" y="279.66" width="1" height="53.51" fill="#089981" opacity="0.64"/>
<rect x="620.87" y="289.08" width="3.8" height="44.09" fill="#089981"/>
<rect x="628" y="275.05" width="1" height="30.06" fill="#089981" opacity="0.64"/>
<rect x="626.43" y="287.98" width="3.8" height="1.80" fill="#089981"/>
<rect x="633" y="273.05" width="1" height="35.07" fill="#089981" opacity="0.64"/>
<rect x="631.99" y="275.05" width="3.8" height="13.63" fill="#089981"/>
<rect x="639" y="263.43" width="1" height="39.68" fill="#F23645" opacity="0.64"/>
<rect x="637.55" y="275.05" width="3.8" height="22.65" fill="#F23645"/>
<rect x="645" y="284.07" width="1" height="13.63" fill="#089981" opacity="0.64"/>
<rect x="643.11" y="287.68" width="3.8" height="10.02" fill="#089981"/>
<rect x="650" y="287.07" width="1" height="43.69" fill="#F23645" opacity="0.64"/>
<rect x="648.67" y="287.68" width="3.8" height="41.48" fill="#F23645"/>
<rect x="656" y="306.51" width="1" height="27.26" fill="#089981" opacity="0.64"/>
<rect x="654.23" y="323.15" width="3.8" height="5.61" fill="#089981"/>
<rect x="661" y="297.49" width="1" height="30.27" fill="#089981" opacity="0.64"/>
<rect x="659.80" y="302.51" width="3.8" height="21.04" fill="#089981"/>
<rect x="667" y="302.10" width="1" height="17.04" fill="#F23645" opacity="0.64"/>
<rect x="665.36" y="302.51" width="3.8" height="12.02" fill="#F23645"/>
<rect x="672" y="314.13" width="1" height="39.08" fill="#F23645" opacity="0.64"/>
<rect x="670.92" y="314.53" width="3.8" height="32.66" fill="#F23645"/>
<rect x="678" y="324.55" width="1" height="23.05" fill="#089981" opacity="0.64"/>
<rect x="676.48" y="325.55" width="3.8" height="22.05" fill="#089981"/>
<rect x="683" y="313.13" width="1" height="25.45" fill="#089981" opacity="0.64"/>
<rect x="682.04" y="324.05" width="3.8" height="1.80" fill="#089981"/>
<rect x="689" y="319.54" width="1" height="28.66" fill="#F23645" opacity="0.64"/>
<rect x="687.60" y="324.15" width="3.8" height="4.01" fill="#F23645"/>
<rect x="695" y="318.74" width="1" height="17.83" fill="#F23645" opacity="0.64"/>
<rect x="693.16" y="327.76" width="3.8" height="8.81" fill="#F23645"/>
<rect x="700" y="315.13" width="1" height="21.44" fill="#089981" opacity="0.64"/>
<rect x="698.73" y="324.15" width="3.8" height="12.42" fill="#089981"/>
<rect x="706" y="322.55" width="1" height="48.69" fill="#F23645" opacity="0.64"/>
<rect x="704.29" y="323.75" width="3.8" height="26.45" fill="#F23645"/>
<rect x="711" y="314.13" width="1" height="40.08" fill="#089981" opacity="0.64"/>
<rect x="709.85" y="319.14" width="3.8" height="31.06" fill="#089981"/>
<rect x="717" y="304.51" width="1" height="47.29" fill="#F23645" opacity="0.64"/>
<rect x="715.41" y="319.14" width="3.8" height="29.66" fill="#F23645"/>
<rect x="722" y="339.18" width="1" height="16.43" fill="#F23645" opacity="0.64"/>
<rect x="720.97" y="348.60" width="3.8" height="7.01" fill="#F23645"/>
<rect x="728" y="327.76" width="1" height="27.85" fill="#089981" opacity="0.64"/>
<rect x="726.53" y="335.17" width="3.8" height="20.44" fill="#089981"/>
<rect x="733" y="324.15" width="1" height="20.44" fill="#F23645" opacity="0.64"/>
<rect x="732.10" y="335.17" width="3.8" height="6.41" fill="#F23645"/>
<rect x="739" y="316.73" width="1" height="30.87" fill="#089981" opacity="0.64"/>
<rect x="737.66" y="322.14" width="3.8" height="19.44" fill="#089981"/>
<rect x="745" y="300.10" width="1" height="23.65" fill="#089981" opacity="0.64"/>
<rect x="743.22" y="319.74" width="3.8" height="2.81" fill="#089981"/>
<rect x="750" y="307.72" width="1" height="14.42" fill="#089981" opacity="0.64"/>
<rect x="748.78" y="313.13" width="3.8" height="7.01" fill="#089981"/>
<rect x="756" y="313.13" width="1" height="8.41" fill="#F23645" opacity="0.64"/>
<rect x="754.34" y="313.13" width="3.8" height="5.61" fill="#F23645"/>
<rect x="761" y="310.72" width="1" height="18.84" fill="#089981" opacity="0.64"/>
<rect x="759.90" y="313.73" width="3.8" height="5.01" fill="#089981"/>
<rect x="767" y="289.08" width="1" height="25.05" fill="#089981" opacity="0.64"/>
<rect x="765.46" y="292.69" width="3.8" height="21.44" fill="#089981"/>
<rect x="772" y="277.05" width="1" height="18.04" fill="#F23645" opacity="0.64"/>
<rect x="771.03" y="292.69" width="3.8" height="2.00" fill="#F23645"/>
<rect x="778" y="289.08" width="1" height="16.03" fill="#F23645" opacity="0.64"/>
<rect x="776.59" y="294.49" width="3.8" height="9.22" fill="#F23645"/>
<rect x="784" y="290.68" width="1" height="11.02" fill="#089981" opacity="0.64"/>
<rect x="782.15" y="293.69" width="3.8" height="8.01" fill="#089981"/>
<rect x="789" y="278.04" width="1" height="16.03" fill="#089981" opacity="0.64"/>
<rect x="787.71" y="281.64" width="3.8" height="12.43" fill="#089981"/>
<rect x="795" y="272.63" width="1" height="39.07" fill="#F23645" opacity="0.64"/>
<rect x="793.27" y="281.64" width="3.8" height="30.06" fill="#F23645"/>
<rect x="800" y="311.10" width="1" height="28.46" fill="#F23645" opacity="0.64"/>
<rect x="798.83" y="311.50" width="3.8" height="18.04" fill="#F23645"/>
<rect x="806" y="328.74" width="1" height="33.46" fill="#F23645" opacity="0.64"/>
<rect x="804.39" y="329.14" width="3.8" height="30.46" fill="#F23645"/>
<rect x="811" y="350.58" width="1" height="24.05" fill="#F23645" opacity="0.64"/>
<rect x="809.96" y="359.60" width="3.8" height="12.22" fill="#F23645"/>
<rect x="817" y="368.22" width="1" height="33.84" fill="#F23645" opacity="0.64"/>
<rect x="815.52" y="371.62" width="3.8" height="28.44" fill="#F23645"/>
<rect x="822" y="390.04" width="1" height="54.51" fill="#F23645" opacity="0.64"/>
<rect x="821.08" y="399.66" width="3.8" height="41.48" fill="#F23645"/>
<rect x="828" y="416.49" width="1" height="32.27" fill="#089981" opacity="0.64"/>
<rect x="826.64" y="430.72" width="3.8" height="10.42" fill="#089981"/>
<rect x="834" y="413.09" width="1" height="33.66" fill="#089981" opacity="0.64"/>
<rect x="832.20" y="421.10" width="3.8" height="10.02" fill="#089981"/>
<rect x="839" y="407.07" width="1" height="15.03" fill="#F23645" opacity="0.64"/>
<rect x="837.76" y="420.70" width="3.8" height="1.80" fill="#F23645"/>
<rect x="845" y="393.65" width="1" height="33.06" fill="#089981" opacity="0.64"/>
<rect x="843.32" y="401.06" width="3.8" height="20.64" fill="#089981"/>
<rect x="850" y="398.46" width="1" height="44.29" fill="#F23645" opacity="0.64"/>
<rect x="848.89" y="401.06" width="3.8" height="5.61" fill="#F23645"/>
<rect x="856" y="405.07" width="1" height="86.17" fill="#F23645" opacity="0.64"/>
<rect x="854.45" y="406.07" width="3.8" height="77.16" fill="#F23645"/>
<rect x="861" y="478.22" width="1" height="44.26" fill="#F23645" opacity="0.64"/>
<rect x="860.01" y="482.83" width="3.8" height="22.22" fill="#F23645"/>
<rect x="867" y="497.03" width="1" height="33.07" fill="#F23645" opacity="0.64"/>
<rect x="865.57" y="505.05" width="3.8" height="11.02" fill="#F23645"/>
<rect x="873" y="510.46" width="1" height="31.26" fill="#F23645" opacity="0.64"/>
<rect x="871.13" y="516.07" width="3.8" height="23.65" fill="#F23645"/>
<rect x="878" y="444.75" width="1" height="124.43" fill="#089981" opacity="0.64"/>
<rect x="876.69" y="451.56" width="3.8" height="88.16" fill="#089981"/>
<rect x="884" y="427.11" width="1" height="59.72" fill="#F23645" opacity="0.64"/>
<rect x="882.26" y="451.56" width="3.8" height="23.25" fill="#F23645"/>
<rect x="889" y="446.75" width="1" height="33.47" fill="#089981" opacity="0.64"/>
<rect x="887.82" y="462.18" width="3.8" height="12.63" fill="#089981"/>
</g>
<line x1="10" y1="462.20" x2="948" y2="462.20" stroke="#089981" stroke-width="1" stroke-dasharray="1 1.6" opacity="0.7"/>
<text x="956.2" y="603.65" font-family="Liberation Sans, sans-serif" font-size="11.4" fill="#252935" stroke="#252935" stroke-width="0.15" textLength="42.8" lengthAdjust="spacingAndGlyphs">9,600.00</text>
<text x="956.2" y="565.15" font-family="Liberation Sans, sans-serif" font-size="11.4" fill="#252935" stroke="#252935" stroke-width="0.15" textLength="42.8" lengthAdjust="spacingAndGlyphs">9,700.00</text>
<text x="956.2" y="526.65" font-family="Liberation Sans, sans-serif" font-size="11.4" fill="#252935" stroke="#252935" stroke-width="0.15" textLength="42.8" lengthAdjust="spacingAndGlyphs">9,800.00</text>
<text x="956.2" y="488.15" font-family="Liberation Sans, sans-serif" font-size="11.4" fill="#252935" stroke="#252935" stroke-width="0.15" textLength="42.8" lengthAdjust="spacingAndGlyphs">9,900.00</text>
<text x="956.2" y="449.65" font-family="Liberation Sans, sans-serif" font-size="11.4" fill="#252935" stroke="#252935" stroke-width="0.15" textLength="48.7" lengthAdjust="spacingAndGlyphs">10,000.00</text>
<text x="956.2" y="411.15" font-family="Liberation Sans, sans-serif" font-size="11.4" fill="#252935" stroke="#252935" stroke-width="0.15" textLength="48.7" lengthAdjust="spacingAndGlyphs">10,100.00</text>
<text x="956.2" y="372.65" font-family="Liberation Sans, sans-serif" font-size="11.4" fill="#252935" stroke="#252935" stroke-width="0.15" textLength="48.7" lengthAdjust="spacingAndGlyphs">10,200.00</text>
<text x="956.2" y="334.15" font-family="Liberation Sans, sans-serif" font-size="11.4" fill="#252935" stroke="#252935" stroke-width="0.15" textLength="48.7" lengthAdjust="spacingAndGlyphs">10,300.00</text>
<text x="956.2" y="295.65" font-family="Liberation Sans, sans-serif" font-size="11.4" fill="#252935" stroke="#252935" stroke-width="0.15" textLength="48.7" lengthAdjust="spacingAndGlyphs">10,400.00</text>
<text x="956.2" y="257.15" font-family="Liberation Sans, sans-serif" font-size="11.4" fill="#252935" stroke="#252935" stroke-width="0.15" textLength="48.7" lengthAdjust="spacingAndGlyphs">10,500.00</text>
<text x="956.2" y="218.65" font-family="Liberation Sans, sans-serif" font-size="11.4" fill="#252935" stroke="#252935" stroke-width="0.15" textLength="48.7" lengthAdjust="spacingAndGlyphs">10,600.00</text>
<text x="956.2" y="180.15" font-family="Liberation Sans, sans-serif" font-size="11.4" fill="#252935" stroke="#252935" stroke-width="0.15" textLength="48.7" lengthAdjust="spacingAndGlyphs">10,700.00</text>
<text x="956.2" y="141.65" font-family="Liberation Sans, sans-serif" font-size="11.4" fill="#252935" stroke="#252935" stroke-width="0.15" textLength="48.7" lengthAdjust="spacingAndGlyphs">10,800.00</text>
<text x="956.2" y="103.15" font-family="Liberation Sans, sans-serif" font-size="11.4" fill="#252935" stroke="#252935" stroke-width="0.15" textLength="48.7" lengthAdjust="spacingAndGlyphs">10,900.00</text>
<text x="956.2" y="64.65" font-family="Liberation Sans, sans-serif" font-size="11.4" fill="#252935" stroke="#252935" stroke-width="0.15" textLength="48.7" lengthAdjust="spacingAndGlyphs">11,000.00</text>
<rect x="948" y="454.5" width="56.2" height="15.5" rx="2" fill="#089981"/>
<text x="956.4" y="465.7" font-family="Liberation Sans, sans-serif" font-size="11.3" fill="#fff" textLength="42.8" lengthAdjust="spacingAndGlyphs" font-weight="bold">9,959.22</text>
<rect x="948.2" y="582.3" width="48.2" height="15.4" rx="2" fill="#26A69A"/>
<text x="957.2" y="594.4" font-family="Liberation Sans, sans-serif" font-size="11.3" fill="#fff" textLength="25.9" lengthAdjust="spacingAndGlyphs" font-weight="bold">18.27</text>
<text x="986.0" y="594.4" font-family="Liberation Sans, sans-serif" font-size="11.3" fill="#fff" textLength="6.0" lengthAdjust="spacingAndGlyphs" font-weight="bold">K</text>
<g font-family="Liberation Sans, sans-serif" font-size="11.7" fill="#252935" text-anchor="middle">
<text x="61.30" y="634.45" stroke="#252935" stroke-width="0.15">10</text>
<text x="116.90" y="634.45" stroke="#252935" stroke-width="0.15">12</text>
<text x="172.50" y="634.45" stroke="#252935" stroke-width="0.15">16</text>
<text x="228.10" y="634.45" stroke="#252935" stroke-width="0.15">18</text>
<text x="283.70" y="634.45" stroke="#252935" stroke-width="0.15">20</text>
<text x="339.30" y="634.45" stroke="#252935" stroke-width="0.15">24</text>
<text x="394.90" y="634.45" stroke="#252935" stroke-width="0.15">26</text>
<text x="449.50" y="634.45" font-weight="bold" textLength="18.5" lengthAdjust="spacingAndGlyphs">Mar</text>
<text x="506.10" y="634.45" stroke="#252935" stroke-width="0.15">4</text>
<text x="561.70" y="634.45" stroke="#252935" stroke-width="0.15">6</text>
<text x="617.30" y="634.45" stroke="#252935" stroke-width="0.15">10</text>
<text x="672.90" y="634.45" stroke="#252935" stroke-width="0.15">12</text>
<text x="728.50" y="634.45" stroke="#252935" stroke-width="0.15">16</text>
<text x="784.10" y="634.45" stroke="#252935" stroke-width="0.15">18</text>
<text x="839.70" y="634.45" stroke="#252935" stroke-width="0.15">20</text>
<text x="895.30" y="634.45" stroke="#252935" stroke-width="0.15">24</text>
</g>
<text x="9.6" y="18.2" font-family="Liberation Sans, sans-serif" font-size="11.3" fill="#252935" stroke="#252935" stroke-width="0.15" textLength="67.4" lengthAdjust="spacingAndGlyphs">angiepanoyan</text>
<text x="81.1" y="18.2" font-family="Liberation Sans, sans-serif" font-size="11.3" fill="#252935" stroke="#252935" stroke-width="0.15" textLength="37.7" lengthAdjust="spacingAndGlyphs">created</text>
<text x="123" y="18.2" font-family="Liberation Sans, sans-serif" font-size="11.3" fill="#252935" stroke="#252935" stroke-width="0.15" textLength="20.8" lengthAdjust="spacingAndGlyphs">with</text>
<text x="149.4" y="18.2" font-family="Liberation Sans, sans-serif" font-size="11.3" fill="#252935" stroke="#252935" stroke-width="0.15" textLength="85.7" lengthAdjust="spacingAndGlyphs">TradingView.com,</text>
<text x="239.8" y="18.2" font-family="Liberation Sans, sans-serif" font-size="11.3" fill="#252935" stroke="#252935" stroke-width="0.15" textLength="16.3" lengthAdjust="spacingAndGlyphs">Mar</text>
<text x="261.1" y="18.2" font-family="Liberation Sans, sans-serif" font-size="11.3" fill="#252935" stroke="#252935" stroke-width="0.15" textLength="14.8" lengthAdjust="spacingAndGlyphs">23,</text>
<text x="280.8" y="18.2" font-family="Liberation Sans, sans-serif" font-size="11.3" fill="#252935" stroke="#252935" stroke-width="0.15" textLength="21.7" lengthAdjust="spacingAndGlyphs">2026</text>
<text x="307.5" y="18.2" font-family="Liberation Sans, sans-serif" font-size="11.3" fill="#252935" stroke="#252935" stroke-width="0.15" textLength="26.1" lengthAdjust="spacingAndGlyphs">22:40</text>
<text x="338.1" y="18.2" font-family="Liberation Sans, sans-serif" font-size="11.3" fill="#252935" stroke="#252935" stroke-width="0.15" textLength="19.5" lengthAdjust="spacingAndGlyphs">UTC</text>
<text x="17.2" y="43.5" font-family="Liberation Sans, sans-serif" font-size="11.3" fill="#252935" stroke="#252935" stroke-width="0.15" textLength="22.9" lengthAdjust="spacingAndGlyphs">FTSE</text>
<text x="44.5" y="43.5" font-family="Liberation Sans, sans-serif" font-size="11.3" fill="#252935" stroke="#252935" stroke-width="0.15" textLength="16.5" lengthAdjust="spacingAndGlyphs">100</text>
<text x="65.4" y="43.5" font-family="Liberation Sans, sans-serif" font-size="11.3" fill="#252935" stroke="#252935" stroke-width="0.15" textLength="26.0" lengthAdjust="spacingAndGlyphs">Index</text>
<text x="102.8" y="43.5" font-family="Liberation Sans, sans-serif" font-size="11.3" fill="#252935" stroke="#252935" stroke-width="0.15" textLength="11.4" lengthAdjust="spacingAndGlyphs">4h</text>
<text x="125.7" y="43.5" font-family="Liberation Sans, sans-serif" font-size="11.3" fill="#252935" stroke="#252935" stroke-width="0.15" textLength="25.8" lengthAdjust="spacingAndGlyphs">FXCM</text>
<circle cx="97.2" cy="39.6" r="0.75" fill="#252935"/><circle cx="120" cy="39.6" r="0.75" fill="#252935"/>
<text x="159" y="43.5" font-family="Liberation Sans, sans-serif" font-size="11.3" fill="#252935" stroke="#252935" stroke-width="0.15" textLength="6.6" lengthAdjust="spacingAndGlyphs">O</text>
<text x="165.8" y="43.5" font-family="Liberation Sans, sans-serif" font-size="11.3" fill="#089981" stroke="#089981" stroke-width="0.15" textLength="43.2" lengthAdjust="spacingAndGlyphs">9,926.44</text>
<text x="216.4" y="43.5" font-family="Liberation Sans, sans-serif" font-size="11.3" fill="#252935" stroke="#252935" stroke-width="0.15" textLength="6.4" lengthAdjust="spacingAndGlyphs">H</text>
<text x="223" y="43.5" font-family="Liberation Sans, sans-serif" font-size="11.3" fill="#089981" stroke="#089981" stroke-width="0.15" textLength="43.0" lengthAdjust="spacingAndGlyphs">9,998.79</text>
<text x="273.6" y="43.5" font-family="Liberation Sans, sans-serif" font-size="11.3" fill="#252935" stroke="#252935" stroke-width="0.15" textLength="4.8" lengthAdjust="spacingAndGlyphs">L</text>
<text x="278.5" y="43.5" font-family="Liberation Sans, sans-serif" font-size="11.3" fill="#089981" stroke="#089981" stroke-width="0.15" textLength="43.5" lengthAdjust="spacingAndGlyphs">9,911.97</text>
<text x="328.6" y="43.5" font-family="Liberation Sans, sans-serif" font-size="11.3" fill="#252935" stroke="#252935" stroke-width="0.15" textLength="6.2" lengthAdjust="spacingAndGlyphs">C</text>
<text x="335" y="43.5" font-family="Liberation Sans, sans-serif" font-size="11.3" fill="#089981" stroke="#089981" stroke-width="0.15" textLength="42.9" lengthAdjust="spacingAndGlyphs">9,959.22</text>
<text x="385.8" y="43.5" font-family="Liberation Sans, sans-serif" font-size="11.3" fill="#089981" stroke="#089981" stroke-width="0.15" textLength="78.0" lengthAdjust="spacingAndGlyphs">+32.78 (+0.33%)</text>
<text x="17.4" y="58.9" font-family="Liberation Sans, sans-serif" font-size="11.3" fill="#252935" stroke="#252935" stroke-width="0.15" textLength="14.2" lengthAdjust="spacingAndGlyphs">Vol</text>
<text x="39.4" y="58.9" font-family="Liberation Sans, sans-serif" font-size="11.3" fill="#26A69A" stroke="#26A69A" stroke-width="0.15" textLength="26.4" lengthAdjust="spacingAndGlyphs">18.27</text>
<text x="68" y="58.9" font-family="Liberation Sans, sans-serif" font-size="11.3" fill="#26A69A" stroke="#26A69A" stroke-width="0.15" textLength="6.4" lengthAdjust="spacingAndGlyphs">K</text>
<circle cx="889.4" cy="605.2" r="9.15" fill="#fff" stroke="#9C27B0" stroke-width="1.5"/>
<path d="M892.70 599.50 L885.10 606.05 L889.50 606.05 L886.30 610.90 L893.90 604.25 L889.50 604.25 Z" fill="#9C27B0"/>
<g><clipPath id="f905"><circle cx="905.95" cy="605.1" r="7.4"/></clipPath>
<circle cx="905.95" cy="605.1" r="9.25" fill="#fff" stroke="#F23645" stroke-width="1.6"/>
<g clip-path="url(#f905)">
<rect x="897.95" y="597.1" width="16" height="16" fill="#1A3FA8"/>
<path d="M897.95 597.1 L913.95 613.1 M913.95 597.1 L897.95 613.1" stroke="#fff" stroke-width="1.9"/>
<path d="M897.95 597.1 L913.95 613.1 M913.95 597.1 L897.95 613.1" stroke="#F0484E" stroke-width="0.75"/>
<path d="M905.95 597.1 V613.1 M897.95 605.1 H913.95" stroke="#fff" stroke-width="3.0"/>
<path d="M905.95 597.1 V613.1 M897.95 605.1 H913.95" stroke="#F0484E" stroke-width="1.7"/>
</g></g>
<g><clipPath id="f928"><circle cx="928.1" cy="605.1" r="7.4"/></clipPath>
<circle cx="928.1" cy="605.1" r="9.25" fill="#fff" stroke="#F23645" stroke-width="1.6"/>
<g clip-path="url(#f928)">
<rect x="920.1" y="597.1" width="16" height="16" fill="#1A3FA8"/>
<path d="M920.1 597.1 L936.1 613.1 M936.1 597.1 L920.1 613.1" stroke="#fff" stroke-width="1.9"/>
<path d="M920.1 597.1 L936.1 613.1 M936.1 597.1 L920.1 613.1" stroke="#F0484E" stroke-width="0.75"/>
<path d="M928.1 597.1 V613.1 M920.1 605.1 H936.1" stroke="#fff" stroke-width="3.0"/>
<path d="M928.1 597.1 V613.1 M920.1 605.1 H936.1" stroke="#F0484E" stroke-width="1.7"/>
</g></g>
<g transform="translate(11.4,660.6) scale(0.772)" fill="#111"><path d="M14 22H7V11H0V4h14v18zM28 22h-8l7.5-18h8L28 22z"/><circle cx="20" cy="8" r="4"/></g>
<text x="46" y="677.6" font-family="Liberation Sans, sans-serif" font-size="18.4" fill="#111" textLength="111.0" lengthAdjust="spacingAndGlyphs" font-weight="bold">TradingView</text>
</svg>
</body></html>
